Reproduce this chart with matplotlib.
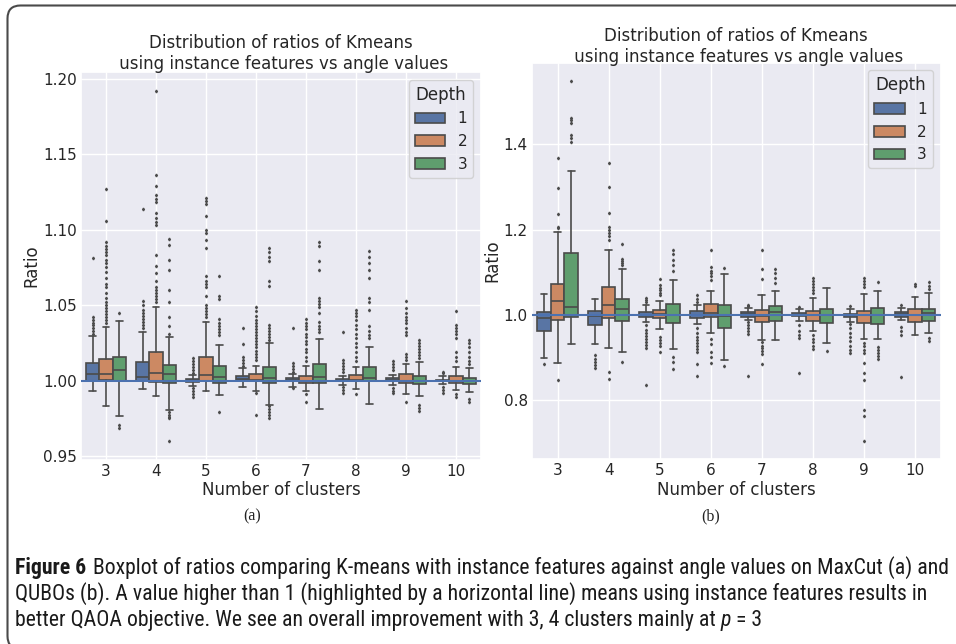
import matplotlib
matplotlib.use("Agg")
import matplotlib.pyplot as plt
import seaborn as sns
from matplotlib.patches import FancyBboxPatch, Patch
from matplotlib.transforms import IdentityTransform
from matplotlib import font_manager

# ---------------- data ----------------
clusters = [3, 4, 5, 6, 7, 8, 9, 10]
depths = [1, 2, 3]

# Panel (a): MaxCut   rows = clusters, cols = depth 1,2,3
a_q1 = [[1.0000, 1.0007, 1.0000], [1.0000, 0.9989, 0.9983], [0.9993, 1.0000, 0.9983],
        [1.0005, 0.9995, 0.9987], [1.0000, 0.9983, 0.9988], [0.9995, 1.0000, 0.9995],
        [0.9995, 0.9988, 0.9978], [0.9995, 0.9987, 0.9976]]
a_med = [[1.0044, 1.0042, 1.0071], [1.0022, 1.0049, 1.0042], [1.0002, 1.0038, 1.0022],
         [1.0010, 1.0007, 1.0016], [1.0008, 1.0000, 1.0022], [1.0000, 1.0007, 1.0020],
         [1.0005, 1.0000, 0.9995], [1.0000, 1.0000, 0.9995]]
a_q3 = [[1.0115, 1.0142, 1.0155], [1.0126, 1.0192, 1.0104], [1.0011, 1.0155, 1.0097],
        [1.0031, 1.0044, 1.0093], [1.0020, 1.0031, 1.0109], [1.0010, 1.0036, 1.0093],
        [1.0015, 1.0044, 1.0033], [1.0005, 1.0031, 1.0018]]
a_lo = [[0.9932, 0.9833, 0.9768], [0.9943, 0.9900, 0.9806], [0.9965, 0.9934, 0.9905],
        [0.9960, 0.9934, 0.9840], [0.9960, 0.9930, 0.9810], [0.9970, 0.9943, 0.9846],
        [0.9974, 0.9910, 0.9899], [0.9980, 0.9938, 0.9927]]
a_hi = [[1.0296, 1.0354, 1.0397], [1.0325, 1.0490, 1.0287], [1.0038, 1.0387, 1.0238],
        [1.0082, 1.0100, 1.0248], [1.0044, 1.0097, 1.0276], [1.0030, 1.0089, 1.0225],
        [1.0040, 1.0110, 1.0122], [1.0030, 1.0093, 1.0084]]
a_fliers = [
    [[1.081, 1.042, 1.040, 1.038, 1.037, 1.035, 1.033, 1.031],
     [1.127, 1.106, 1.092, 1.089, 1.087, 1.085, 1.083, 1.080, 1.078, 1.075, 1.072, 1.068,
      1.064, 1.062, 1.058, 1.055, 1.052, 1.050, 1.048, 1.046, 1.044, 1.042, 1.040, 1.038],
     [1.045, 0.971, 0.969]],
    [[1.114, 1.053, 1.050, 1.047, 1.045, 1.043, 1.041, 1.039, 1.037, 1.035],
     [1.192, 1.136, 1.129, 1.123, 1.120, 1.118, 1.111, 1.108, 1.105, 1.103, 1.083, 1.076,
      1.071, 1.066, 1.062, 1.060, 1.058, 1.056, 1.054, 1.052],
     [1.094, 1.090, 1.080, 1.073, 1.060, 1.052, 1.042, 1.036, 1.031, 0.979, 0.977, 0.976,
      0.975, 0.960]],
    [[1.015, 1.013, 1.011, 1.009, 1.007, 1.005, 0.995, 0.993, 0.991, 0.989],
     [1.121, 1.119, 1.117, 1.109, 1.100, 1.098, 1.093, 1.088, 1.069, 1.066, 1.064, 1.062,
      1.056, 1.050, 1.048, 1.046, 1.044, 1.042],
     [1.069, 1.056, 1.054, 1.041, 1.038, 1.036, 1.034, 1.032, 1.030, 0.979]],
    [[1.035, 1.024, 1.016, 1.014, 1.012, 1.010],
     [1.049, 1.046, 1.043, 1.040, 1.038, 1.036, 1.034, 1.032, 1.030, 1.028, 1.026, 1.024,
      1.022, 1.020, 1.018, 1.016, 1.014, 0.992, 0.977],
     [1.088, 1.085, 1.082, 1.079, 1.066, 1.063, 1.037, 1.035, 1.033, 1.031, 1.029, 1.027,
      0.983, 0.981, 0.979, 0.977, 0.975]],
    [[1.035, 1.012, 1.010, 1.008, 1.006, 0.9955],
     [1.041, 1.038, 1.036, 1.034, 1.031, 1.029, 1.026, 1.024, 1.021, 1.019, 1.016, 1.013,
      0.991, 0.986],
     [1.092, 1.089, 1.079, 1.073, 1.055, 1.053, 1.051, 1.049, 1.045, 1.039, 1.036, 1.034,
      1.032]],
    [[1.032, 1.014, 1.012, 1.010, 1.008, 1.006, 0.996, 0.994, 0.992],
     [1.047, 1.045, 1.043, 1.040, 1.037, 1.034, 1.031, 1.028, 1.025, 1.022, 1.019, 1.016,
      1.013, 0.991],
     [1.086, 1.082, 1.078, 1.073, 1.068, 1.055, 1.052, 1.047, 1.036, 1.033, 1.030, 1.028]],
    [[1.013, 1.011, 1.009, 1.007, 0.995, 0.993, 0.992],
     [1.053, 1.048, 1.045, 1.042, 1.040, 1.038, 1.035, 1.032, 1.030, 1.018, 1.016, 1.014,
      0.986],
     [1.027, 1.025, 1.023, 1.021, 1.019, 1.017, 1.015, 0.984, 0.982, 0.980]],
    [[1.006, 1.005, 0.996, 0.994, 0.992],
     [1.046, 1.037, 1.035, 1.033, 1.031, 1.028, 1.019, 1.016, 1.013, 0.991, 0.989],
     [1.027, 1.025, 1.022, 1.019, 1.016, 1.013, 1.011, 0.988, 0.986]],
]

# Panel (b): QUBOs
b_q1 = [[0.963, 0.988, 0.9938], [0.975, 0.992, 0.986], [0.9938, 0.992, 0.9805],
        [0.992, 0.9938, 0.969], [0.996, 0.982, 0.986], [0.9977, 0.986, 0.9805],
        [0.9945, 0.9805, 0.979], [0.996, 0.984, 0.986]]
b_med = [[0.992, 1.033, 1.0195], [0.9977, 1.0235, 1.013], [1.000, 1.003, 1.000],
         [1.000, 1.004, 0.9977], [1.001, 0.9977, 1.006], [1.000, 1.000, 1.000],
         [1.000, 1.000, 1.000], [1.001, 1.000, 1.004]]
b_q3 = [[1.0078, 1.072, 1.146], [1.0086, 1.065, 1.037], [1.0078, 1.0117, 1.025],
        [1.008, 1.026, 1.022], [1.006, 1.0117, 1.021], [1.004, 1.0094, 1.013],
        [1.0023, 1.0094, 1.0156], [1.0055, 1.013, 1.014]]
b_lo = [[0.898, 0.888, 0.932], [0.931, 0.923, 0.912], [0.984, 0.967, 0.920],
        [0.978, 0.957, 0.8945], [0.987, 0.941, 0.941], [0.985, 0.9625, 0.935],
        [0.983, 0.943, 0.943], [0.988, 0.9515, 0.957]]
b_hi = [[1.049, 1.195, 1.3376], [1.037, 1.151, 1.107], [1.0234, 1.0336, 1.082],
        [1.023, 1.057, 1.0954], [1.016, 1.047, 1.057], [1.013, 1.039, 1.0625],
        [1.013, 1.0485, 1.056], [1.016, 1.043, 1.052]]
b_fliers = [
    [[0.885],
     [1.369, 1.298, 1.237, 1.207, 1.203, 0.848],
     [1.549, 1.461, 1.456, 1.451, 1.422, 1.414, 1.406]],
    [[0.905, 0.897, 0.890, 0.882, 0.875],
     [1.356, 1.299, 1.238, 1.207, 1.199, 1.192, 1.185, 1.176, 0.867, 0.849],
     [1.166, 1.130, 1.126, 1.122, 1.118, 0.889]],
    [[1.040, 1.035, 1.030, 0.975, 0.965, 0.958, 0.950, 0.943, 0.936, 0.929, 0.922, 0.836],
     [1.084, 1.070, 1.064, 1.058, 1.052, 1.046, 0.948, 0.940, 0.933, 0.926, 0.912],
     [1.151, 1.143, 1.128, 1.116, 1.102, 0.900, 0.890, 0.873]],
    [[1.046, 1.038, 1.030, 0.970, 0.958, 0.949, 0.942, 0.935, 0.928, 0.920, 0.913, 0.885,
      0.857],
     [1.151, 1.112, 1.104, 1.097, 1.090, 1.082, 0.944, 0.932, 0.912, 0.900, 0.887],
     [1.110, 0.879]],
    [[1.024, 1.020, 0.984, 0.977, 0.970, 0.963, 0.955, 0.857],
     [1.151, 1.107, 1.084, 0.936, 0.928, 0.921, 0.914, 0.907, 0.885],
     [1.107, 1.097, 1.086, 1.075]],
    [[1.018, 0.975, 0.962, 0.953, 0.945, 0.863],
     [1.086, 1.079, 1.072, 1.066, 1.058, 1.051, 0.953, 0.944, 0.936, 0.927, 0.920],
     [0.914]],
    [[1.020, 0.978, 0.968, 0.958, 0.948, 0.938, 0.928, 0.918, 0.910],
     [1.086, 1.080, 1.073, 1.066, 0.934, 0.926, 0.918, 0.910, 0.887, 0.863, 0.848, 0.777,
      0.762, 0.705],
     [1.076, 0.925, 0.917, 0.910, 0.903, 0.897]],
    [[1.022, 0.972, 0.962, 0.953, 0.854],
     [1.073, 1.067],
     [1.076, 1.068, 1.060, 0.945, 0.938]],
]

title_text = "Distribution of ratios of Kmeans\n using instance features vs angle values"
caption_l1_bold = "Figure 6"
caption_l1 = "Boxplot of ratios comparing K-means with instance features against angle values on MaxCut (a) and"
caption_l2 = "QUBOs (b). A value higher than 1 (highlighted by a horizontal line) means using instance features results in"
caption_l3a = "better QAOA objective. We see an overall improvement with 3, 4 clusters mainly at "
caption_l3p = "p"
caption_l3b = " = 3"

# ---------------- style ----------------
sns.set_theme(style="darkgrid", context="notebook")
plt.rcParams["font.family"] = ["DejaVu Sans"]

box_colors = ["#5975a4", "#cc8963", "#5f9e6e"]
gray = "#4b4b4b"

W, H = 956, 644
fig = plt.figure(figsize=(W / 100, H / 100), dpi=100)
fig.patch.set_facecolor("white")


def px_axes(x0, x1, ytop, ybot):
    return [x0 / W, (H - ybot) / H, (x1 - x0) / W, (ybot - ytop) / H]


def draw_panel(ax, q1, med, q3, lo, hi, fl, ylim, yticks, ylabels, title_pad):
    n_h = len(depths)
    w = 0.8 / n_h
    for j in range(n_h):
        stats = []
        pos = []
        for i in range(len(clusters)):
            stats.append(dict(med=med[i][j], q1=q1[i][j], q3=q3[i][j],
                              whislo=lo[i][j], whishi=hi[i][j],
                              fliers=fl[i][j], label=str(clusters[i])))
            pos.append(i + (j - 1) * w)
        ax.bxp(stats, positions=pos, widths=w, patch_artist=True,
               showfliers=True, manage_ticks=False,
               boxprops=dict(edgecolor=gray, linewidth=1.2, facecolor=box_colors[j]),
               medianprops=dict(color=gray, linewidth=1.2),
               whiskerprops=dict(color=gray, linewidth=1.2),
               capprops=dict(color=gray, linewidth=1.2),
               flierprops=dict(marker="d", markersize=1.4, markerfacecolor=gray,
                               markeredgecolor=gray, linestyle="none"))
    ax.axhline(1.0, color="#4C72B0", linewidth=1.5, zorder=5)
    ax.set_xlim(-0.5, len(clusters) - 0.5)
    ax.set_xticks(range(len(clusters)))
    ax.set_xticklabels([str(c) for c in clusters])
    ax.set_ylim(*ylim)
    ax.set_yticks(yticks)
    ax.set_yticklabels(ylabels)
    ax.tick_params(axis="both", length=0, pad=3)
    ax.set_xlabel("Number of clusters", labelpad=1.5)
    ax.set_ylabel("Ratio", labelpad=2)
    ax.set_title(title_text, pad=title_pad)
    handles = [Patch(facecolor=box_colors[k], edgecolor=gray, linewidth=1.2, label=str(d))
               for k, d in enumerate(depths)]
    ax.legend(handles=handles, title="Depth", loc="upper right")


ax1 = fig.add_axes(px_axes(81, 481, 72, 460))
draw_panel(ax1, a_q1, a_med, a_q3, a_lo, a_hi, a_fliers, (0.9475, 1.2044),
           [0.95, 1.00, 1.05, 1.10, 1.15, 1.20],
           ["0.95", "1.00", "1.05", "1.10", "1.15", "1.20"], 2)

ax2 = fig.add_axes(px_axes(532, 940.6, 62.7, 459.3))
draw_panel(ax2, b_q1, b_med, b_q3, b_lo, b_hi, b_fliers, (0.661, 1.5916),
           [0.8, 1.0, 1.2, 1.4], ["0.8", "1.0", "1.2", "1.4"], 0.5)

# sub-captions
fig.text(252 / W, (H - 516) / H, "(a)", ha="center", va="center",
         family=["Liberation Serif", "DejaVu Serif"], fontsize=11.5, color="#222222")
fig.text(711 / W, (H - 516) / H, "(b)", ha="center", va="center",
         family=["Liberation Serif", "DejaVu Serif"], fontsize=11.5, color="#222222")

# border
border = FancyBboxPatch((7.5, -5), 1000, (H - 5.5) + 5,
                        boxstyle="round,pad=0,rounding_size=13",
                        transform=IdentityTransform(), facecolor="none",
                        edgecolor="#4a4a4a", linewidth=1.5)
fig.patches.append(border)

# caption font: prefer a narrow/condensed sans face if one is installed
cap_family, cap_stretch = "Roboto", "normal"
entries = font_manager.fontManager.ttflist
narrow = [f for f in entries if f.name in ("Liberation Sans Narrow", "Roboto Condensed",
                                            "Open Sans Condensed", "Noto Sans Condensed")]
if narrow:
    cap_family = narrow[0].name
else:
    cond = [f for f in entries if f.name in ("Noto Sans", "Open Sans", "DejaVu Sans")
            and str(f.stretch) in ("condensed", "semi-condensed")]
    if cond:
        cap_family, cap_stretch = cond[0].name, str(cond[0].stretch)

renderer = fig.canvas.get_renderer()


def run(x_px, y_px, parts, size):
    x = x_px
    made = []
    for txt, weight, style, gap in parts:
        x += gap
        t = fig.text(x / W, (H - y_px) / H, txt, ha="left", va="baseline",
                     family=cap_family, stretch=cap_stretch, weight=weight,
                     style=style, fontsize=size, color="#1a1a1a")
        made.append(t)
        x = t.get_window_extent(renderer).x1
    return x, made


line1 = [(caption_l1_bold, "bold", "normal", 0), (caption_l1, "normal", "normal", 7)]
end, probe = run(15, 574, line1, 12)
for t in probe:
    t.remove()
cap_size = 12 * 935 / (end - 15)

run(15, 574, line1, cap_size)
run(15, 600, [(caption_l2, "normal", "normal", 0)], cap_size)
run(15, 626, [(caption_l3a, "normal", "normal", 0), (caption_l3p, "normal", "italic", 0),
              (caption_l3b, "normal", "normal", 0)], cap_size)

fig.savefig("out.png", dpi=100, facecolor="white")
